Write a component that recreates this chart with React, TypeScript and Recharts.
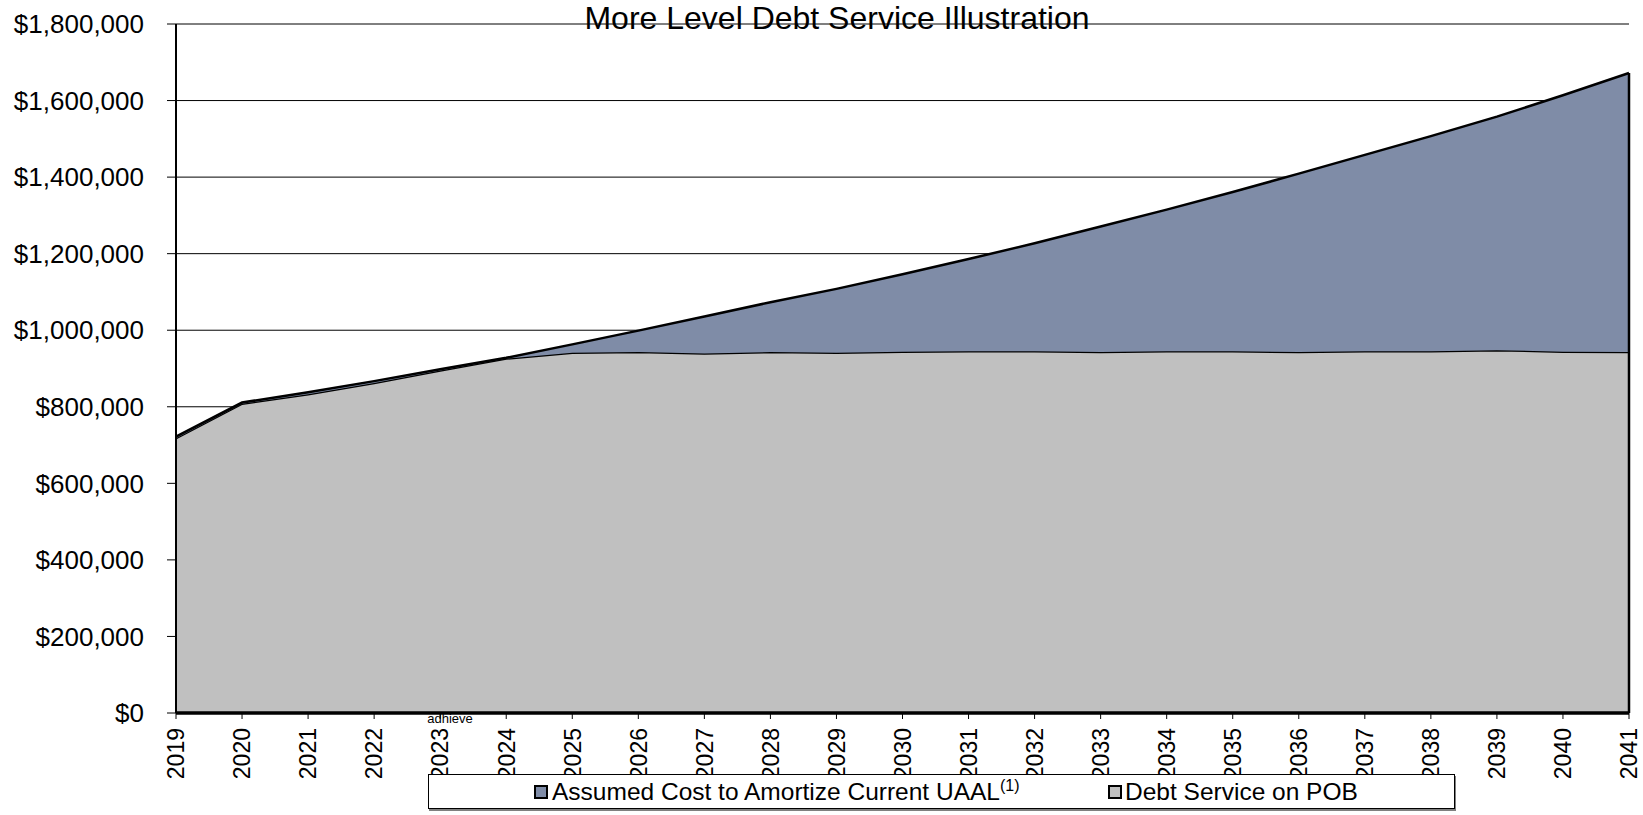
import { AreaChart, Area, XAxis, YAxis, CartesianGrid, ReferenceLine } from 'recharts'

const years = [
  '2019', '2020', '2021', '2022', '2023', '2024', '2025', '2026', '2027', '2028', '2029', '2030',
  '2031', '2032', '2033', '2034', '2035', '2036', '2037', '2038', '2039', '2040', '2041',
]

// Debt Service on POB (bottom band)
const debtService = [
  718000, 808000, 833000, 862000, 895000, 926000, 941000, 943000, 939000, 943000, 941000, 944000,
  945000, 945000, 943000, 945000, 945000, 943000, 945000, 945000, 948000, 944000, 943000,
]

// Assumed Cost to Amortize Current UAAL (stacked on top)
const uaalCost = [
  4000, 3000, 5000, 5000, 3000, 2000, 22000, 56000, 97000, 130000, 167000, 202000,
  241000, 282000, 328000, 370000, 416000, 466000, 513000, 562000, 610000, 670000, 729000,
]

const yTicks = [0, 200000, 400000, 600000, 800000, 1000000, 1200000, 1400000, 1600000, 1800000]

const FONT = '"Liberation Sans", Arial, sans-serif'
const UAAL_COLOR = '#7F8CA7'
const POB_COLOR = '#C0C0C0'

const data = years.map((year, i) => ({ year, pob: debtService[i], uaal: uaalCost[i] }))
const lastIdx = years.length - 1

function YearTick({ x, y, payload }: any) {
  return (
    <g transform={`translate(${x},${y})`}>
      <text transform="rotate(-90)" textAnchor="end" dy="0.36em" fontSize={23} fontFamily={FONT} fill="#000">
        {payload.value}
      </text>
    </g>
  )
}

function LegendBox() {
  const marker = (color: string, left: number) => (
    <span
      style={{
        position: 'absolute',
        left,
        top: 10,
        width: 14,
        height: 14,
        boxSizing: 'border-box',
        background: color,
        border: '2px solid #000',
      }}
    />
  )
  return (
    <div
      style={{
        position: 'absolute',
        left: 428,
        top: 774,
        width: 1027,
        height: 35,
        boxSizing: 'border-box',
        border: '1px solid #000',
        background: '#fff',
        boxShadow: '1px 2px 0 #808080',
        fontFamily: FONT,
        fontSize: 24.5,
        color: '#000',
      }}
    >
      {marker(UAAL_COLOR, 105)}
      <span style={{ position: 'absolute', left: 123, top: 2, lineHeight: '30px', whiteSpace: 'nowrap' }}>
        Assumed Cost to Amortize Current UAAL
        <span style={{ fontSize: 16, position: 'relative', top: -9 }}>(1)</span>
      </span>
      {marker(POB_COLOR, 679)}
      <span style={{ position: 'absolute', left: 696, top: 2, lineHeight: '30px', whiteSpace: 'nowrap' }}>
        Debt Service on POB
      </span>
    </div>
  )
}

export default function App() {
  return (
    <div style={{ position: 'absolute', left: 0, top: 0, width: 1643, height: 815, background: '#fff' }}>
      <AreaChart width={1643} height={815} data={data} margin={{ top: 24, right: 14, left: 0, bottom: 0 }}>
        <CartesianGrid vertical={false} stroke="#000" strokeWidth={1} />
        <Area
          type="linear"
          dataKey="pob"
          stackId="1"
          stroke="#000"
          strokeWidth={2.5}
          fill={POB_COLOR}
          fillOpacity={1}
          dot={false}
          activeDot={false}
          isAnimationActive={false}
        />
        <Area
          type="linear"
          dataKey="uaal"
          stackId="1"
          stroke="#000"
          strokeWidth={2.5}
          fill={UAAL_COLOR}
          fillOpacity={1}
          dot={false}
          activeDot={false}
          isAnimationActive={false}
        />
        <XAxis
          dataKey="year"
          interval={0}
          height={102}
          tickSize={6}
          tickMargin={9}
          axisLine={{ stroke: '#000', strokeWidth: 3.5 }}
          tickLine={{ stroke: '#000' }}
          tick={<YearTick />}
        />
        <YAxis
          width={176}
          domain={[0, 1800000]}
          ticks={yTicks}
          interval={0}
          tickSize={9}
          tickMargin={23}
          axisLine={{ stroke: '#000', strokeWidth: 2 }}
          tickLine={{ stroke: '#000' }}
          tick={{ fontSize: 26, fill: '#000', fontFamily: FONT }}
          tickFormatter={(v: number) => `$${v.toLocaleString('en-US')}`}
        />
        <ReferenceLine
          segment={[
            { x: years[lastIdx], y: 0 },
            { x: years[lastIdx], y: debtService[lastIdx] + uaalCost[lastIdx] },
          ]}
          stroke="#000"
          strokeWidth={2.5}
          ifOverflow="visible"
        />
      </AreaChart>
      <LegendBox />
      <svg
        width={1643}
        height={815}
        style={{ position: 'absolute', left: 0, top: 0, pointerEvents: 'none' }}
      >
        <text x={837} y={29} textAnchor="middle" fontSize={32} fontFamily={FONT} fill="#000">
          More Level Debt Service Illustration
        </text>
        <text x={450} y={723} textAnchor="middle" fontSize={13} fontFamily={FONT} fill="#000">
          adhieve
        </text>
      </svg>
    </div>
  )
}
